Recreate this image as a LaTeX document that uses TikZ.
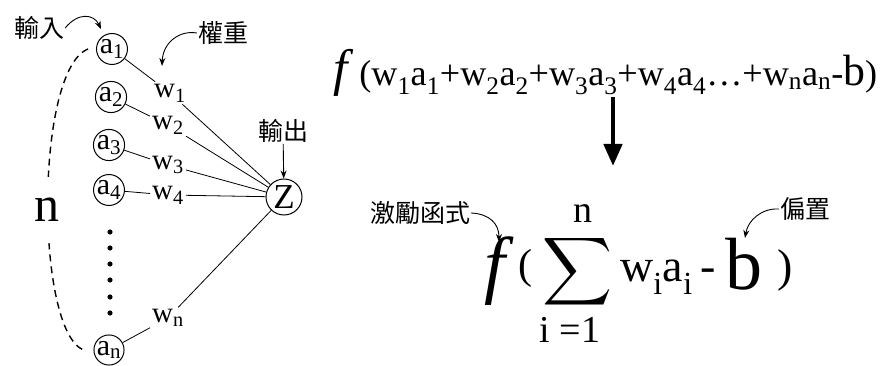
\documentclass[tikz,border=0pt]{standalone}
\usepackage{fontspec}
\setmainfont{Liberation Serif}
\newfontfamily\cjk{Noto Sans CJK TC}
\usepackage{graphicx}
\usepackage{tikz}
\usetikzlibrary{arrows.meta}
\newcommand\sz[1]{\fontsize{#1}{#1}\selectfont}
\newcommand\wa[1]{w\textsubscript{#1}a\textsubscript{#1}}

\begin{document}
\begin{tikzpicture}[
  x=1pt, y=-1pt,
  inp/.style={circle, draw, line width=1pt, minimum size=29pt, inner sep=0pt, font=\sz{30}},
  outp/.style={circle, draw, line width=1pt, minimum size=36pt, inner sep=0pt, font=\sz{35}},
  wlab/.style={inner sep=2pt, font=\sz{29}},
  cjklab/.style={inner sep=1pt, font=\cjk\sz{25}},
  conn/.style={line width=0.8pt},
  callout/.style={-{Stealth[length=8pt,width=6pt]}, line width=0.9pt},
  bigarrow/.style={-{Triangle[length=22pt,width=18pt]}, line width=4.5pt},
  formula/.style={inner sep=0pt},
]
\useasboundingbox (0,0) rectangle (887,366);

% === Network: inputs, weights, output ===
\node[inp] (a1) at (112,49)  {a\textsubscript{1}};
\node[inp] (a2) at (111,97)  {a\textsubscript{2}};
\node[inp] (a3) at (109,145) {a\textsubscript{3}};
\node[inp] (a4) at (109,190) {a\textsubscript{4}};
\node[inp] (an) at (109,350) {a\textsubscript{n}};
\node[outp] (z) at (284,197) {Z};

\node[wlab] (w1) at (170,93)  {w\textsubscript{1}};
\node[wlab] (w2) at (168,125) {w\textsubscript{2}};
\node[wlab] (w3) at (168,165) {w\textsubscript{3}};
\node[wlab] (w4) at (168,195) {w\textsubscript{4}};
\node[wlab] (wn) at (168,318) {w\textsubscript{n}};

\foreach \i in {1,2,3,4,n} {
  \draw[conn] (a\i) -- (w\i);
  \draw[conn] (w\i) -- (z);
}

% vertical dots
\foreach \y in {232,248,264,280,297,313}
  \fill (110,\y) circle (2.6pt);

% n inputs brace
\draw[dashed, dash pattern=on 7pt off 5pt, line width=1.4pt]
  ([xshift=-8pt]a1.west) .. controls (35,70) and (35,330) .. ([xshift=-10pt]an.west);
\node[fill=white, inner sep=0pt, minimum height=66pt, font=\sz{50}] (nlab) at (47,210) {n};

% === Labels ===
\node[cjklab] (inpl) at (39,28)  {輸入};
\node[cjklab] (wgtl) at (223,33) {權重};
\node[cjklab] (outl) at (283,131) {輸出};
\coordinate (inptip) at (101,29);
\coordinate (wgttip) at (162,66);
\draw[callout] (inpl.east) .. controls (78,12) and (94,14) .. (inptip);
\draw[callout] (wgtl.west) .. controls (180,30) and (163,42) .. (wgttip);
\draw[callout] (outl) -- (z);

% === Formula 1 ===
\node[formula, anchor=base west, font=\sz{38}] (topf) at (333,86)
  {\resizebox{544pt}{!}{{\sz{54}\textit{f}}\,(\wa{1}+\wa{2}+\wa{3}+\wa{4}\dots+\wa{n}-{\sz{46}b})}};

\coordinate (arrtip) at (613,166);
\draw[bigarrow] (topf.south -| arrtip) -- (arrtip);

% === Formula 2 ===
\node[formula, anchor=base, font=\sz{75}\itshape] (botf) at (495,290) {f};
\node[formula, anchor=base, font=\sz{42}] (lpar) at (525,279) {(};
\node[formula] (sig) at (578,272) {\resizebox*{70pt}{76pt}{$\displaystyle\sum$}};
\node[formula, anchor=base, font=\sz{38}] (supn) at (583,223) {n};
\node[formula, anchor=base, font=\sz{38}] (subi) at (570,343) {i =1};
\node[formula, anchor=base west, font=\sz{46}] (wiai) at (620,282) {w\textsubscript{i}a\textsubscript{i}\,-};
\node[formula, anchor=base, font=\sz{74}] (bias) at (744,290) {b};
\node[formula, anchor=base, font=\sz{46}] (rpar) at (785,282) {)};

\node[cjklab] (actl)  at (420,213) {激勵函式};
\node[cjklab] (biasl) at (805,209) {偏置};
\coordinate (acttip) at (499,242);
\coordinate (biastip) at (745,238);
\draw[callout] (actl.east) .. controls (490,214) and (499,224) .. (acttip);
\draw[callout] (biasl.west) .. controls (762,208) and (748,220) .. (biastip);

\end{tikzpicture}
\end{document}
